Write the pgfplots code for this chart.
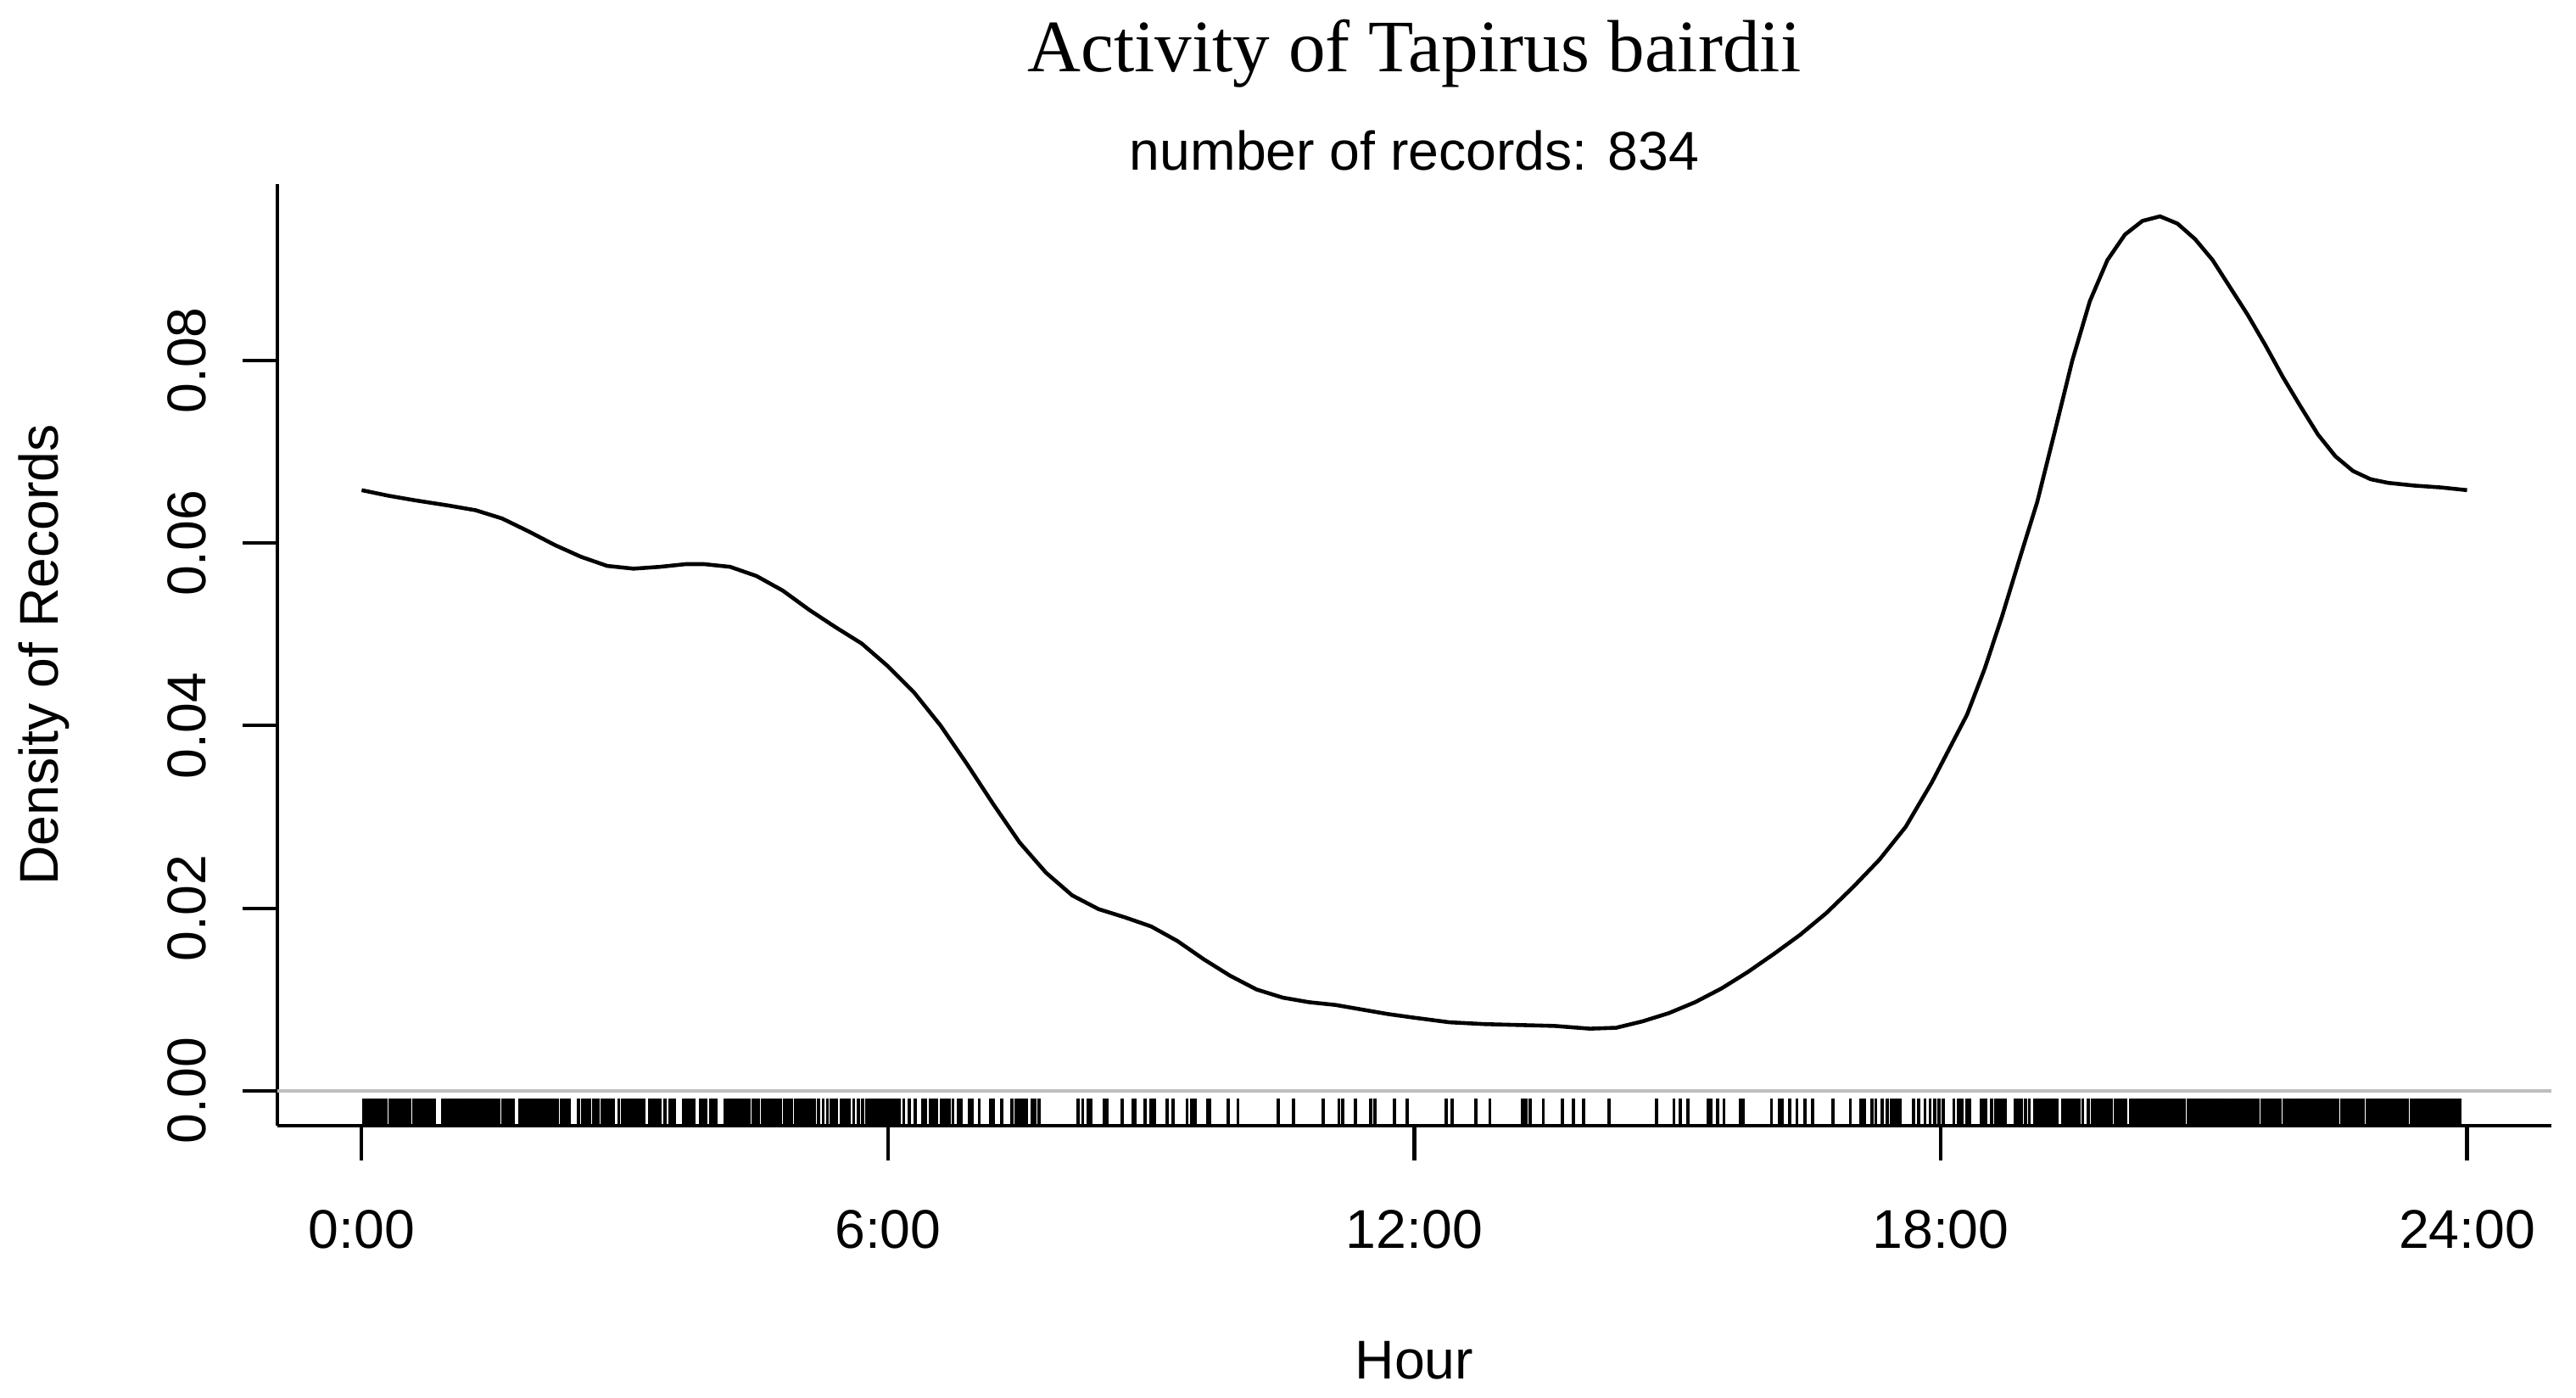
\documentclass[border=0pt]{standalone}
\usepackage{pgfplots}
\pgfplotsset{compat=1.18}
\usepackage{fontspec}
\setmainfont{Liberation Sans}
\newfontfamily\titlefont{Liberation Serif}
\definecolor{rgray}{RGB}{190,190,190}

\begin{document}
\begin{tikzpicture}
\begin{axis}[
  scale only axis, width=643.4bp, height=266.4bp,
  xmin=-0.96, xmax=24.96, ymin=-0.00383, ymax=0.09933,
  axis x line*=bottom, axis y line*=left,
  axis line style={line width=1bp, black},
  tick align=outside, major tick length=9.8bp,
  every tick/.style={black, line width=1bp},
  scaled y ticks=false,
  xtick={0,6,12,18,24}, xticklabels={0:00,6:00,12:00,18:00,24:00},
  ytick={0,0.02,0.04,0.06,0.08}, yticklabels={0.00,0.02,0.04,0.06,0.08},
  tick label style={font=\fontsize{15.5}{18}\selectfont, inner sep=0pt},
  xticklabel style={anchor=north}, xticklabel shift=14bp,
  yticklabel style={rotate=90, anchor=south}, yticklabel shift=10.2bp,
  clip=false,
]
% zero line
\addplot[rgray, line width=1bp] coordinates {(-0.96,0) (24.96,0)};
% rug of records (hours)
\addplot[only marks, mark=|, mark size=3.84bp, mark options={line width=0.9bp, black}]
  table[header=false, row sep=\\, x index=0, y expr=-0.0023] {
0.026\\0.066\\0.10\\0.13\\0.17\\0.20\\0.24\\0.28\\0.32\\0.35\\0.38\\0.41\\0.43\\0.46\\0.49\\0.52\\0.55\\0.59\\0.62\\0.65\\
0.68\\0.71\\0.74\\0.77\\0.80\\0.83\\0.92\\0.95\\0.98\\1.02\\1.05\\1.08\\1.10\\1.13\\1.16\\1.19\\1.22\\1.24\\1.27\\1.30\\
1.33\\1.36\\1.39\\1.42\\1.45\\1.48\\1.50\\1.53\\1.56\\1.61\\1.65\\1.68\\1.70\\1.73\\1.80\\1.83\\1.86\\1.89\\1.92\\1.95\\
1.98\\2.01\\2.04\\2.07\\2.10\\2.13\\2.17\\2.21\\2.23\\2.28\\2.31\\2.34\\2.37\\2.47\\2.52\\2.56\\2.60\\2.64\\2.67\\2.70\\
2.74\\2.78\\2.81\\2.84\\2.87\\2.93\\2.97\\3.00\\3.03\\3.06\\3.09\\3.12\\3.16\\3.19\\3.22\\3.28\\3.31\\3.34\\3.37\\3.40\\
3.46\\3.51\\3.54\\3.57\\3.67\\3.70\\3.73\\3.76\\3.79\\3.86\\3.89\\3.92\\3.98\\4.01\\4.04\\4.14\\4.17\\4.20\\4.23\\4.26\\
4.29\\4.32\\4.36\\4.39\\4.42\\4.46\\4.49\\4.52\\4.57\\4.60\\4.63\\4.66\\4.69\\4.72\\4.75\\4.77\\4.82\\4.86\\4.90\\4.95\\
4.98\\5.01\\5.04\\5.07\\5.10\\5.13\\5.16\\5.21\\5.26\\5.31\\5.35\\5.38\\5.41\\5.47\\5.50\\5.53\\5.56\\5.61\\5.66\\5.71\\
5.76\\5.80\\5.83\\5.86\\5.89\\5.91\\5.94\\5.97\\6.00\\6.03\\6.05\\6.09\\6.13\\6.18\\6.24\\6.31\\6.40\\6.43\\6.48\\6.51\\
6.55\\6.61\\6.64\\6.67\\6.70\\6.74\\6.80\\6.83\\6.93\\6.96\\7.04\\7.17\\7.20\\7.30\\7.41\\7.46\\7.49\\7.52\\7.55\\7.58\\
7.64\\7.67\\7.72\\8.17\\8.22\\8.28\\8.31\\8.47\\8.50\\8.67\\8.79\\8.82\\8.93\\9.00\\9.04\\9.18\\9.25\\9.41\\9.46\\9.50\\
9.64\\9.67\\9.88\\9.99\\10.45\\10.62\\10.96\\11.14\\11.18\\11.33\\11.50\\11.55\\11.77\\11.92\\12.36\\12.43\\12.70\\12.86\\13.23\\13.27\\
13.32\\13.47\\13.69\\13.81\\13.93\\14.22\\14.76\\14.96\\15.03\\15.12\\15.35\\15.38\\15.46\\15.53\\15.72\\15.75\\16.07\\16.16\\16.19\\16.28\\
16.36\\16.45\\16.54\\16.77\\16.97\\17.09\\17.13\\17.22\\17.26\\17.33\\17.39\\17.44\\17.48\\17.51\\17.54\\17.69\\17.75\\17.82\\17.88\\17.93\\
17.98\\18.03\\18.15\\18.20\\18.24\\18.30\\18.33\\18.46\\18.49\\18.51\\18.58\\18.63\\18.66\\18.69\\18.72\\18.74\\18.85\\18.88\\18.92\\18.97\\
19.01\\19.07\\19.10\\19.13\\19.16\\19.19\\19.22\\19.24\\19.27\\19.30\\19.33\\19.39\\19.42\\19.45\\19.48\\19.50\\19.53\\19.56\\19.58\\19.62\\
19.68\\19.73\\19.76\\19.79\\19.82\\19.85\\19.88\\19.91\\19.94\\19.99\\20.02\\20.04\\20.08\\20.11\\20.16\\20.19\\20.22\\20.25\\20.28\\20.31\\
20.34\\20.37\\20.39\\20.43\\20.46\\20.49\\20.52\\20.55\\20.58\\20.61\\20.64\\20.67\\20.70\\20.73\\20.76\\20.78\\20.82\\20.85\\20.88\\20.91\\
20.94\\20.97\\21.00\\21.03\\21.06\\21.09\\21.12\\21.15\\21.18\\21.21\\21.25\\21.285\\21.32\\21.35\\21.38\\21.41\\21.44\\21.47\\21.49\\21.525\\
21.56\\21.59\\21.62\\21.66\\21.69\\21.72\\21.75\\21.78\\21.82\\21.85\\21.87\\21.91\\21.94\\21.97\\22.00\\22.04\\22.07\\22.10\\22.13\\22.17\\
22.20\\22.23\\22.26\\22.28\\22.32\\22.35\\22.36\\22.40\\22.42\\22.46\\22.49\\22.52\\22.53\\22.57\\22.60\\22.61\\22.65\\22.68\\22.71\\22.73\\
22.77\\22.80\\22.82\\22.86\\22.89\\22.92\\22.95\\22.98\\23.01\\23.04\\23.07\\23.10\\23.13\\23.15\\23.18\\23.21\\23.24\\23.27\\23.30\\23.32\\
23.36\\23.39\\23.42\\23.45\\23.48\\23.51\\23.54\\23.57\\23.60\\23.63\\23.65\\23.68\\23.71\\23.74\\23.77\\23.80\\23.83\\23.86\\23.89\\23.92\\
};
% kernel density curve
\addplot[black, line width=1.1bp] table {
x y
0.00 0.0658
0.30 0.0652
0.60 0.0647
1.00 0.0641
1.30 0.0636
1.60 0.0627
1.90 0.0613
2.20 0.0598
2.50 0.0585
2.80 0.0575
3.10 0.0572
3.40 0.0574
3.70 0.0577
3.90 0.0577
4.20 0.0574
4.50 0.0564
4.80 0.0548
5.10 0.0527
5.40 0.0508
5.70 0.0490
6.00 0.0465
6.30 0.0436
6.60 0.0400
6.90 0.0358
7.20 0.0314
7.50 0.0272
7.80 0.0239
8.10 0.0214
8.40 0.0199
8.70 0.0190
9.00 0.0180
9.30 0.0164
9.60 0.0144
9.90 0.0126
10.20 0.0111
10.50 0.0102
10.80 0.0097
11.10 0.0094
11.40 0.0089
11.70 0.0084
12.00 0.0080
12.40 0.0075
12.80 0.0073
13.20 0.0072
13.60 0.0071
14.00 0.0068
14.30 0.0069
14.60 0.0076
14.90 0.0085
15.20 0.0097
15.50 0.0112
15.80 0.0130
16.10 0.0150
16.40 0.0171
16.70 0.0195
17.00 0.0223
17.30 0.0253
17.60 0.0289
17.90 0.0338
18.10 0.0375
18.30 0.0412
18.50 0.0462
18.70 0.0520
18.90 0.0583
19.10 0.0645
19.30 0.0722
19.50 0.0800
19.70 0.0865
19.90 0.0910
20.10 0.0938
20.30 0.0953
20.50 0.0958
20.70 0.0950
20.90 0.0933
21.10 0.0910
21.30 0.0880
21.50 0.0850
21.70 0.0817
21.90 0.0782
22.10 0.0750
22.30 0.0719
22.50 0.0695
22.70 0.0679
22.90 0.0670
23.10 0.0666
23.40 0.0663
23.70 0.0661
24.00 0.0658
};
\end{axis}
\node[anchor=base, font=\titlefont\fontsize{21}{25}\selectfont] at ([yshift=31.7bp]current axis.north) {Activity of Tapirus bairdii};
\node[anchor=base, font=\fontsize{15.5}{18}\selectfont] at ([yshift=3.9bp]current axis.north) {number of records: 834};
\node[rotate=90, anchor=center, font=\fontsize{15.5}{18}\selectfont] at ([xshift=-66bp]current axis.west) {Density of Records};
\node[anchor=center, font=\fontsize{15.5}{18}\selectfont] at ([yshift=-66.5bp]current axis.south) {Hour};
\path ([xshift=-78.5bp,yshift=-77bp]current axis.south west) rectangle ([xshift=7bp,yshift=52.1bp]current axis.north east);
\end{tikzpicture}
\end{document}
